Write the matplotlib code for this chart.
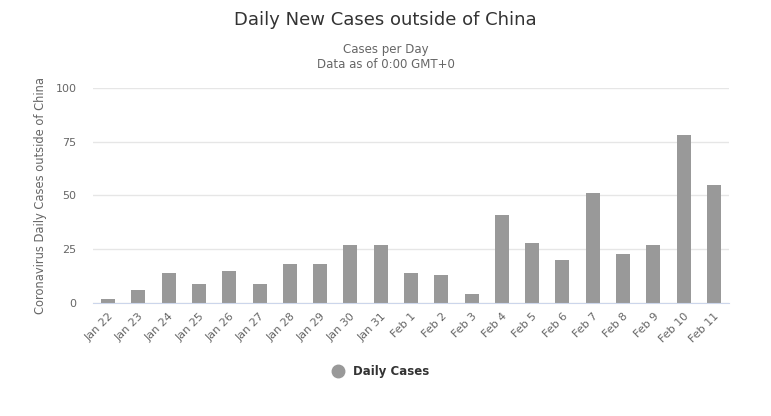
import matplotlib
matplotlib.use("Agg")
import matplotlib.pyplot as plt
from matplotlib.lines import Line2D

categories = ["Jan 22", "Jan 23", "Jan 24", "Jan 25", "Jan 26", "Jan 27", "Jan 28",
              "Jan 29", "Jan 30", "Jan 31", "Feb 1", "Feb 2", "Feb 3", "Feb 4",
              "Feb 5", "Feb 6", "Feb 7", "Feb 8", "Feb 9", "Feb 10", "Feb 11"]
daily_cases = [2, 6, 14, 9, 15, 9, 18, 18, 27, 27, 14, 13, 4, 41, 28, 20, 51, 23, 27, 78, 55]
y_ticks = [0, 25, 50, 75, 100]

plt.rcParams['font.family'] = ['DejaVu Sans']

fig = plt.figure(figsize=(7.71, 4.16), dpi=100)
ax = fig.add_axes([93/771, 1 - 303/416, (729 - 93)/771, (303 - 88)/416])

x = list(range(len(categories)))
ax.bar(x, daily_cases, width=0.46, color="#999999", zorder=3)

ax.set_xlim(-0.5, len(categories) - 0.5)
ax.set_ylim(0, 100)
ax.set_yticks(y_ticks)
ax.set_yticklabels([str(v) for v in y_ticks], color="#666666", fontsize=8)
ax.set_xticks(x)
ax.set_xticklabels(categories, rotation=45, ha="right", rotation_mode="anchor",
                   color="#666666", fontsize=8)
ax.tick_params(axis="both", length=0)
ax.tick_params(axis="y", pad=12)
ax.tick_params(axis="x", pad=6)

ax.grid(axis="y", color="#e6e6e6", linewidth=1, zorder=0)
for s in ["top", "right", "left"]:
    ax.spines[s].set_visible(False)
ax.spines["bottom"].set_color("#ccd6eb")
ax.spines["bottom"].set_zorder(4)

ax.set_ylabel("Coronavirus Daily Cases outside of China", color="#666666", fontsize=8.3, labelpad=6)

fig.text(0.5, 1 - 20/416, "Daily New Cases outside of China", ha="center", va="center",
         fontsize=13, color="#333333")
fig.text(0.5, 1 - 49/416, "Cases per Day", ha="center", va="center", fontsize=8.5, color="#666666")
fig.text(0.5, 1 - 65/416, "Data as of 0:00 GMT+0", ha="center", va="center", fontsize=8.5, color="#666666")

handle = Line2D([], [], marker="o", linestyle="none", markersize=9, color="#999999")
leg = fig.legend([handle], ["Daily Cases"], loc="center", bbox_to_anchor=(0.49, 1 - 372/416),
                 frameon=False, handletextpad=0.3, prop={"weight": "bold", "size": 8.5})
for t in leg.get_texts():
    t.set_color("#333333")

fig.savefig("out.png", dpi=100, facecolor="white")
